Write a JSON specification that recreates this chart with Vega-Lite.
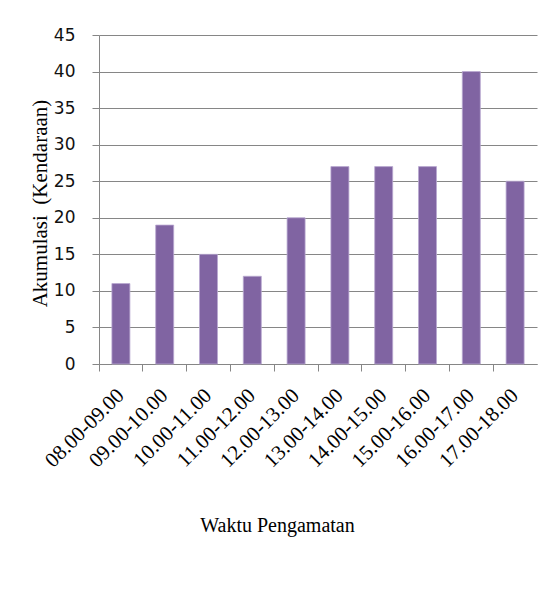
{
  "$schema": "https://vega.github.io/schema/vega-lite/v6.json",
  "width": 438,
  "height": 329,
  "autosize": "none",
  "padding": {"left": 99, "top": 35, "right": 22, "bottom": 227},
  "background": "white",
  "data": {"values": [
    {"waktu": "08.00-09.00", "akumulasi": 11},
    {"waktu": "09.00-10.00", "akumulasi": 19},
    {"waktu": "10.00-11.00", "akumulasi": 15},
    {"waktu": "11.00-12.00", "akumulasi": 12},
    {"waktu": "12.00-13.00", "akumulasi": 20},
    {"waktu": "13.00-14.00", "akumulasi": 27},
    {"waktu": "14.00-15.00", "akumulasi": 27},
    {"waktu": "15.00-16.00", "akumulasi": 27},
    {"waktu": "16.00-17.00", "akumulasi": 40},
    {"waktu": "17.00-18.00", "akumulasi": 25}
  ]},
  "config": {"view": {"stroke": null}},
  "layer": [
    {
      "mark": {"type": "bar", "size": 18, "color": "#8064A2", "stroke": "#B9A8D0", "strokeWidth": 0.8},
      "encoding": {
        "x": {
          "field": "waktu", "type": "nominal", "sort": null,
          "scale": {"paddingInner": 0, "paddingOuter": 0},
          "axis": {
            "orient": "bottom",
            "title": "Waktu Pengamatan",
            "titleFont": "Liberation Serif", "titleFontSize": 20, "titleFontWeight": "normal", "titleColor": "#000",
            "titleX": 178, "titleY": 161, "titleBaseline": "middle", "titleAlign": "center",
            "labelFont": "Liberation Serif", "labelFontSize": 21, "labelColor": "#000",
            "labelAngle": -45, "labelAlign": "right", "labelBaseline": "middle",
            "labelPadding": 28, "labelOverlap": false,
            "ticks": false, "domain": false, "grid": false
          }
        },
        "y": {
          "field": "akumulasi", "type": "quantitative",
          "scale": {"domain": [0, 45], "nice": false},
          "axis": {
            "values": [0, 5, 10, 15, 20, 25, 30, 35, 40, 45],
            "title": "Akumulasi\u00a0 (Kendaraan)",
            "titleFont": "Liberation Serif", "titleFontSize": 21, "titleFontWeight": "normal", "titleColor": "#000",
            "titleX": -59, "titleY": 168, "titleAngle": 270, "titleBaseline": "middle", "titleAlign": "center",
            "labelFont": "DejaVu Sans", "labelFontSize": 17, "labelColor": "#111",
            "labelPadding": 17, "labelOverlap": false, "labelFlush": false,
            "tickSize": 7, "tickColor": "#868686",
            "domainColor": "#868686",
            "grid": true, "gridColor": "#868686", "gridWidth": 1
          }
        }
      }
    },
    {
      "mark": {"type": "bar", "opacity": 0},
      "encoding": {
        "x": {
          "field": "waktu", "type": "nominal", "sort": null,
          "axis": {
            "orient": "bottom",
            "bandPosition": 0,
            "title": null,
            "labels": false,
            "tickSize": 7, "tickColor": "#868686",
            "domainColor": "#868686",
            "grid": false
          }
        }
      }
    }
  ],
  "resolve": {"axis": {"x": "independent"}}
}
